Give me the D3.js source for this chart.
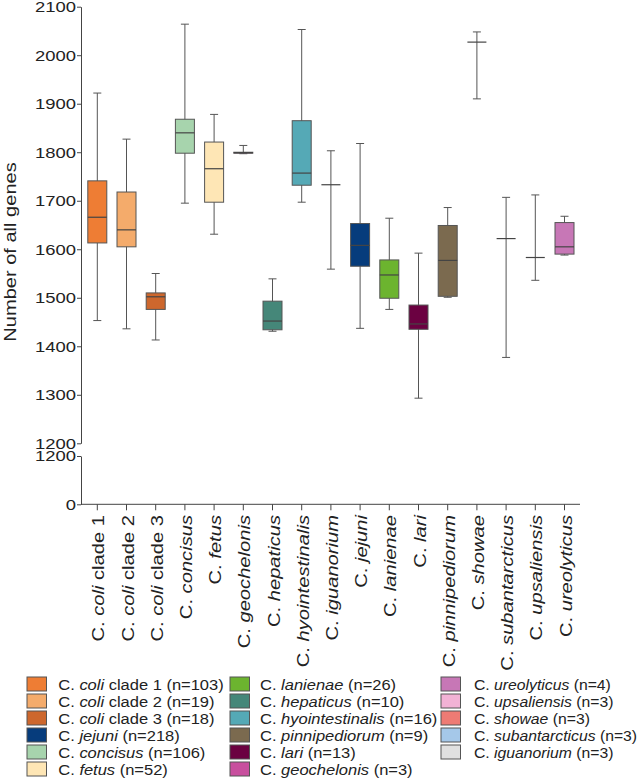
<!DOCTYPE html>
<html><head><meta charset="utf-8">
<script src="https://cdn.jsdelivr.net/npm/d3@7"></script>
<style>body{margin:0;background:#fff}svg{display:block;font-family:"Liberation Sans",Arial,sans-serif}</style>
</head><body><svg id="c" width="642" height="780"></svg>
<script>
const categories = ["clade1","clade2","clade3","concisus","fetus","geochelonis","hepaticus","hyointestinalis","iguanorium","jejuni","lanienae","lari","pinnipediorum","showae","subantarcticus","upsaliensis","ureolyticus"];
const labelSpecies = ["coli","coli","coli","concisus","fetus","geochelonis","hepaticus","hyointestinalis","iguanorium","jejuni","lanienae","lari","pinnipediorum","showae","subantarcticus","upsaliensis","ureolyticus"];
const labelSuffix = [" clade 1"," clade 2"," clade 3","","","","","","","","","","","","","",""];
const whiskerLow  = [1453,1436,1413,1695,1631,1797,1431,1697,1559,1437,1476,1293,1501,1910,1377,1536,1588];
const q1          = [1613,1605,1476,1798,1697,1798,1434,1732,1733,1565,1499,1435,1503,2027,1622,1583,1590];
const medians     = [1666,1640,1502,1840,1766,1799,1452,1757,1733,1608,1547,1446,1577,2027,1622,1583,1605];
const q3          = [1741,1718,1510,1868,1821,1800,1493,1865,1733,1653,1578,1485,1649,2027,1622,1583,1655];
const whiskerHigh = [1922,1827,1550,2064,1878,1814,1539,2053,1803,1818,1664,1592,1686,2048,1707,1712,1668];
const colors = {clade1:"#ee7d34",clade2:"#f4ab6b",clade3:"#cd672d",jejuni:"#063c7c",concisus:"#a7d4ad",fetus:"#fee6b5",
  lanienae:"#6cb42f",hepaticus:"#458779",hyointestinalis:"#55a9b6",pinnipediorum:"#7b6a4f",lari:"#6b0141",geochelonis:"#c84f9e",
  ureolyticus:"#c777b6",upsaliensis:"#f2b2d5",showae:"#ee7b74",subantarcticus:"#a5c8e9",iguanorium:"#e0e0e0"};
const yTicksUpper = [1200,1300,1400,1500,1600,1700,1800,1900,2000,2100];
const yTicksLower = [0,1200];
const legendCols = [
  [["clade1","coli"," clade 1 (n=103)"],["clade2","coli"," clade 2 (n=19)"],["clade3","coli"," clade 3 (n=18)"],["jejuni","jejuni"," (n=218)"],["concisus","concisus"," (n=106)"],["fetus","fetus"," (n=52)"]],
  [["lanienae","lanienae"," (n=26)"],["hepaticus","hepaticus"," (n=10)"],["hyointestinalis","hyointestinalis"," (n=16)"],["pinnipediorum","pinnipediorum"," (n=9)"],["lari","lari"," (n=13)"],["geochelonis","geochelonis"," (n=3)"]],
  [["ureolyticus","ureolyticus"," (n=4)"],["upsaliensis","upsaliensis"," (n=3)"],["showae","showae"," (n=3)"],["subantarcticus","subantarcticus"," (n=3)"],["iguanorium","iguanorium"," (n=3)"]]
];

const svg = d3.select("#c");
const axisColor = "#444";
const textColor = "#222";
const x = d3.scaleBand().domain(categories).range([82.7, 579.1]).padding(0);
const yU = d3.scaleLinear().domain([1200, 2100]).range([443.3, 6.7]);
const yL = d3.scaleLinear().domain([0, 1200]).range([504.3, 456]);

// axes
const tickScale = 1.19;
const gU = svg.append("g").attr("transform","translate(81,0)")
  .call(d3.axisLeft(yU).tickValues(yTicksUpper).tickSize(4).tickSizeOuter(0).tickFormat(d3.format("d")));
const gL = svg.append("g").attr("transform","translate(81,0)")
  .call(d3.axisLeft(yL).tickValues(yTicksLower).tickSize(4).tickSizeOuter(0).tickFormat(d3.format("d")));
[gU,gL].forEach(g=>{
  g.select(".domain").attr("stroke",axisColor);
  g.selectAll(".tick line").attr("stroke",axisColor);
  g.selectAll(".tick text").attr("fill",textColor).attr("font-size",15.5)
    .attr("font-family","Liberation Sans, Arial, sans-serif")
    .attr("x",-5/tickScale).attr("transform",`scale(${tickScale},1)`);
});
const gX = svg.append("g").attr("transform","translate(0,504.3)")
  .call(d3.axisBottom(x).tickSize(6).tickSizeOuter(0).tickFormat(""));
gX.select(".domain").attr("d","M81,0H580").attr("stroke",axisColor);
gX.selectAll(".tick line").attr("stroke",axisColor);

// x labels
categories.forEach((c,i)=>{
  const t = svg.append("text")
    .attr("transform",`translate(${x(c)+x.bandwidth()/2+7},515) rotate(-90) scale(1.26,1)`)
    .attr("text-anchor","end").attr("font-size",16).attr("fill",textColor);
  t.append("tspan").text("C. ");
  t.append("tspan").attr("font-style","italic").text(labelSpecies[i]);
  if (labelSuffix[i]) t.append("tspan").text(labelSuffix[i]);
});

// y title
svg.append("text").attr("transform","translate(16,252) rotate(-90) scale(1.18,1)")
  .attr("text-anchor","middle").attr("font-size",17).attr("fill",textColor).text("Number of all genes");

// boxes
const bw = 19, cap = 8;
const g = svg.append("g");
categories.forEach((c,i)=>{
  const cx = x(c)+x.bandwidth()/2;
  const wc = "#555";
  g.append("line").attr("x1",cx).attr("x2",cx).attr("y1",yU(whiskerLow[i])).attr("y2",yU(whiskerHigh[i])).attr("stroke",wc).attr("stroke-width",1);
  g.append("line").attr("x1",cx-cap/2).attr("x2",cx+cap/2).attr("y1",yU(whiskerLow[i])).attr("y2",yU(whiskerLow[i])).attr("stroke",wc);
  g.append("line").attr("x1",cx-cap/2).attr("x2",cx+cap/2).attr("y1",yU(whiskerHigh[i])).attr("y2",yU(whiskerHigh[i])).attr("stroke",wc);
  if (q3[i] > q1[i]) {
    g.append("rect").attr("x",cx-bw/2).attr("width",bw).attr("y",yU(q3[i])).attr("height",yU(q1[i])-yU(q3[i]))
      .attr("fill",colors[c]).attr("stroke","#555").attr("stroke-width",1);
  }
  g.append("line").attr("x1",cx-bw/2).attr("x2",cx+bw/2).attr("y1",yU(medians[i])).attr("y2",yU(medians[i]))
    .attr("stroke","#444").attr("stroke-width",1.2);
});

// legend
const colX = [27, 230, 441], textX = [58.3, 260, 474], colScale = [1.1, 1.1, 1.05];
legendCols.forEach((col,ci)=>{
  col.forEach((it,ri)=>{
    const yy = 677 + ri*17;
    svg.append("rect").attr("x",colX[ci]).attr("y",yy).attr("width",19.5).attr("height",14)
      .attr("fill",colors[it[0]]).attr("stroke","#555").attr("stroke-width",1);
    const t = svg.append("text").attr("transform",`translate(${textX[ci]},${yy+12.5}) scale(${colScale[ci]},1)`)
      .attr("font-size",15).attr("fill",textColor);
    t.append("tspan").text("C. ");
    t.append("tspan").attr("font-style","italic").text(it[1]);
    t.append("tspan").text(it[2]);
  });
});
</script></body></html>
